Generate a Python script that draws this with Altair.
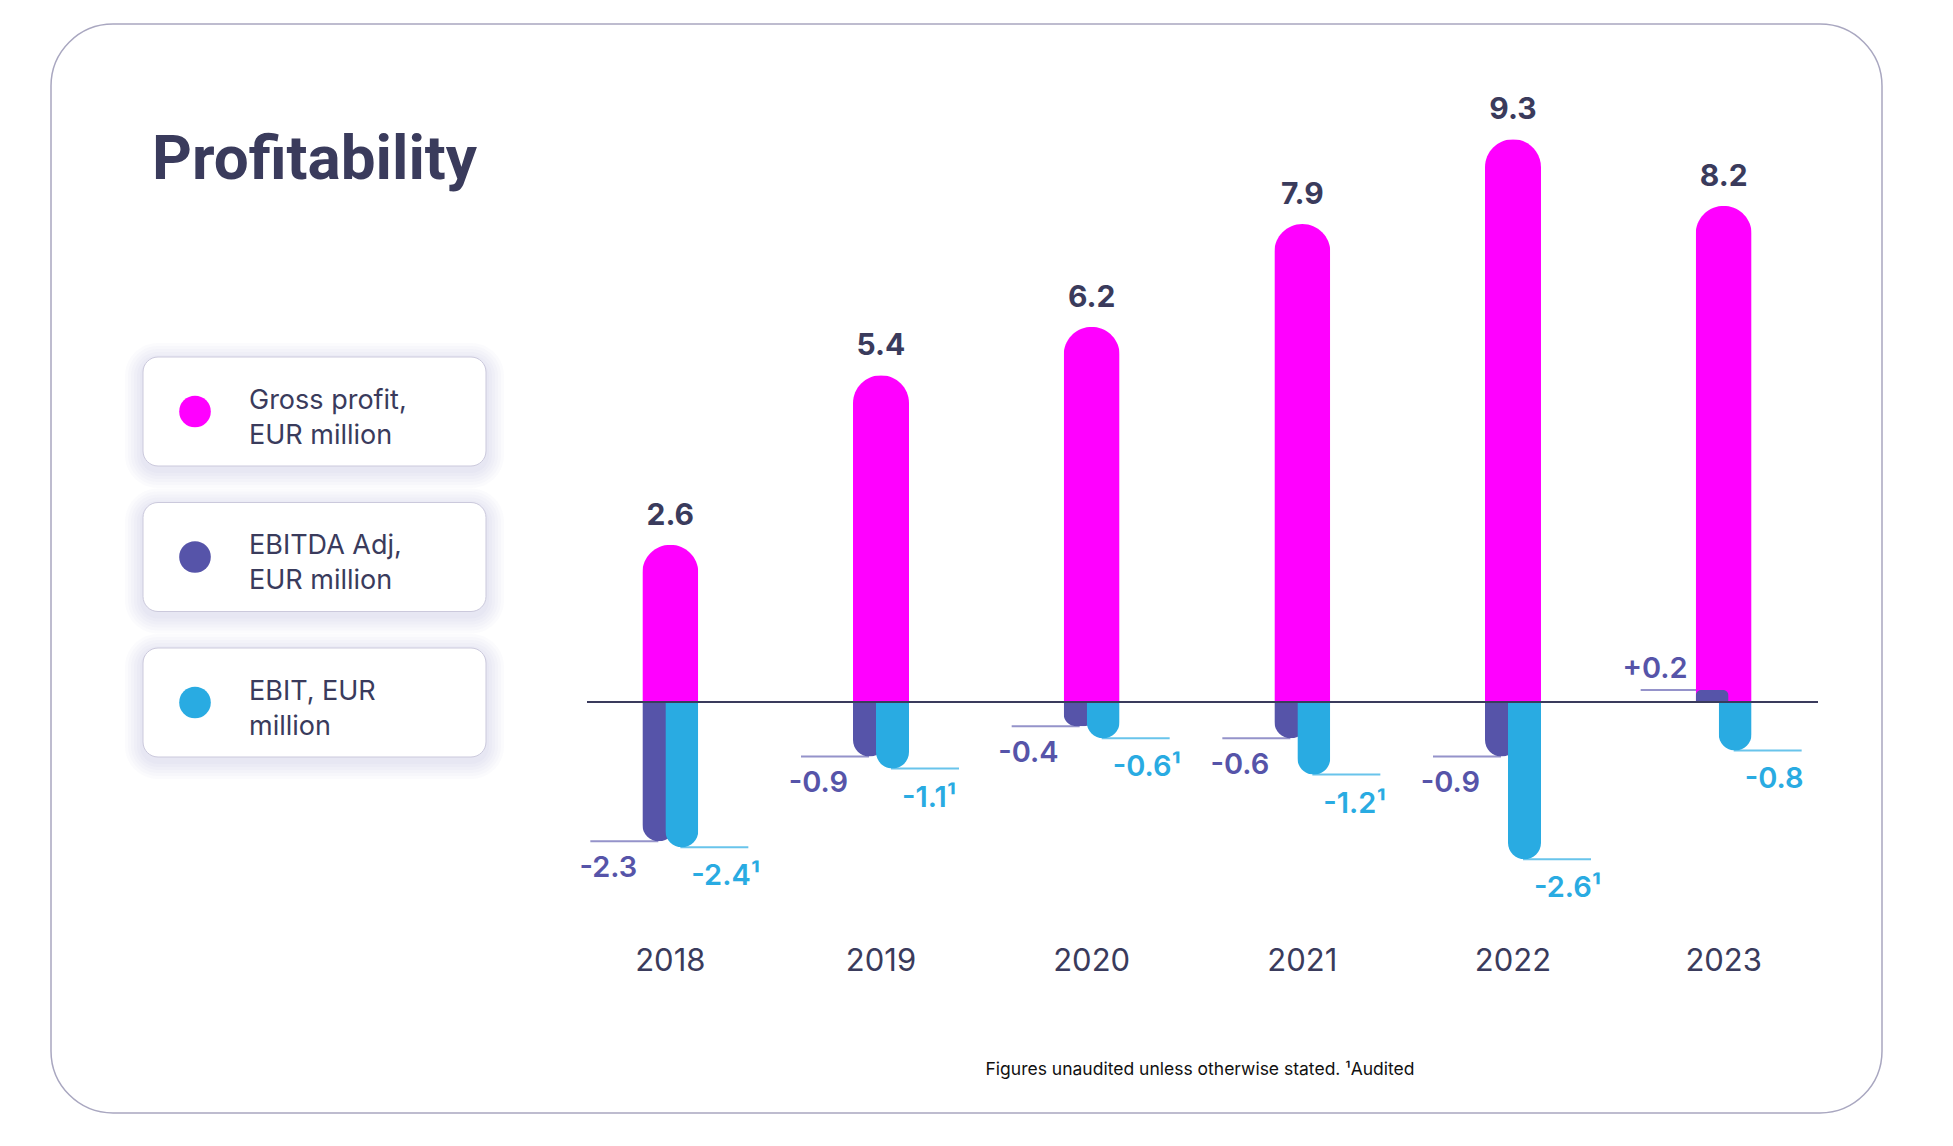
import altair as alt
import pandas as pd

# ---------------- data ----------------
years = ["2018", "2019", "2020", "2021", "2022", "2023"]
gross_profit = [2.6, 5.4, 6.2, 7.9, 9.3, 8.2]
ebitda_adj = [-2.3, -0.9, -0.4, -0.6, -0.9, 0.2]
ebit = [-2.4, -1.1, -0.6, -1.2, -2.6, -0.8]
ebit_audited = [True, True, True, True, True, False]

series_names = ["Gross profit,\nEUR million", "EBITDA Adj,\nEUR million", "EBIT, EUR\nmillion"]
series_colors = ["#FF00FF", "#5654A9", "#29ABE2"]

title_text = "Profitability"
footnote_text = "Figures unaudited unless otherwise stated. \u00b9Audited"

# ---------------- styles ----------------
DARK = "#3A3B5C"
MAG, PURPLE, CYAN = series_colors
FONT = "Inter"

df = pd.DataFrame({
    "year": years,
    "gross": gross_profit,
    "ebitda": ebitda_adj,
    "ebit": ebit,
    "ebitda_label": [f"{v:+.1f}" for v in ebitda_adj],
    "ebit_label": [f"{v:.1f}" + ("\u00b9" if a else "") for v, a in zip(ebit, ebit_audited)],
})

x_scale = alt.Scale(domain=years, range=[565, 1829], paddingInner=0, paddingOuter=0)
PX = 60.5
ZERO_Y = 702
y_scale = alt.Scale(domain=[-5, 10], range=[ZERO_Y + 5 * PX, ZERO_Y - 10 * PX])
X = alt.X("year:N", scale=x_scale, axis=None)


def Y(f):
    return alt.Y(f"{f}:Q", scale=y_scale, axis=None)


base = alt.Chart(df)
neg = "datum.ebitda < 0"
pos = "datum.ebitda >= 0"

lead_ebitda_neg = base.transform_filter(neg).mark_tick(
    orient="horizontal", size=68, thickness=2, xOffset=-46, color="#6865B4"
).encode(x=X, y=Y("ebitda"))
lead_ebitda_pos = base.transform_filter(pos).mark_tick(
    orient="horizontal", size=70, thickness=2, xOffset=-48, color="#6865B4"
).encode(x=X, y=Y("ebitda"))
lead_ebit = base.mark_tick(
    orient="horizontal", size=68, thickness=2, xOffset=44, color=CYAN
).encode(x=X, y=Y("ebit"))

gross_bar = base.mark_bar(
    width=56, color=MAG, cornerRadiusTopLeft=28, cornerRadiusTopRight=28
).encode(x=X, y=Y("gross"))
ebitda_neg_bar = base.transform_filter(neg).mark_bar(
    width=33, xOffset=-11.5, color=PURPLE, cornerRadiusBottomLeft=16.5, cornerRadiusBottomRight=16.5
).encode(x=X, y=Y("ebitda"))
ebitda_pos_bar = base.transform_filter(pos).mark_bar(
    width=33, xOffset=-11.5, color=PURPLE, cornerRadiusTopLeft=16.5, cornerRadiusTopRight=16.5
).encode(x=X, y=Y("ebitda"))
ebit_bar = base.mark_bar(
    width=33, xOffset=11.5, color=CYAN, cornerRadiusBottomLeft=16.5, cornerRadiusBottomRight=16.5
).encode(x=X, y=Y("ebit"))

zero_line = alt.Chart(pd.DataFrame({"zero": [0]})).mark_rule(
    color=DARK, strokeWidth=2
).encode(y=Y("zero"), x=alt.value(587), x2=alt.value(1818))

gross_text = base.mark_text(
    dy=-20, baseline="alphabetic", fontSize=30, fontWeight=700, font=FONT, color=DARK
).encode(x=X, y=Y("gross"), text=alt.Text("gross:Q", format=".1f"))
ebitda_neg_text = base.transform_filter(neg).mark_text(
    align="right", dx=-33, dy=36, baseline="alphabetic", fontSize=29, fontWeight=600,
    font=FONT, color=PURPLE
).encode(x=X, y=Y("ebitda"), text="ebitda_label:N")
ebitda_pos_text = base.transform_filter(pos).mark_text(
    align="right", dx=-36, dy=-12, baseline="alphabetic", fontSize=29, fontWeight=600,
    font=FONT, color=PURPLE
).encode(x=X, y=Y("ebitda"), text="ebitda_label:N")
ebit_text = base.mark_text(
    align="left", dx=21, dy=38, baseline="alphabetic", fontSize=29, fontWeight=600,
    font=FONT, color=CYAN
).encode(x=X, y=Y("ebit"), text="ebit_label:N")
year_text = base.mark_text(
    baseline="alphabetic", fontSize=31, fontWeight=400, font=FONT, color=DARK
).encode(x=X, y=alt.value(971), text="year:N")

main = alt.layer(
    lead_ebitda_neg, lead_ebitda_pos, lead_ebit,
    gross_bar, ebitda_neg_bar, ebitda_pos_bar, ebit_bar,
    zero_line,
    gross_text, ebitda_neg_text, ebitda_pos_text, ebit_text, year_text,
)

# ---------------- legend (drawn as marks) ----------------
leg_df = pd.DataFrame({"name": series_names, "color": series_colors, "i": [0, 1, 2]})
UNIT = 145.5
ly_scale = alt.Scale(domain=[0, 2], range=[411.5, 411.5 + 2 * UNIT])
HALF = 54.5
leg_base = alt.Chart(leg_df)

shadow_layers = []
for k in range(1, 7):
    e = 3 * k
    shadow_layers.append(
        leg_base.transform_calculate(
            lo=f"datum.i - {(HALF + e - 4) / UNIT}",
            hi=f"datum.i + {(HALF + e + 4) / UNIT}",
        ).mark_rect(fill="#7D79B8", opacity=0.028, cornerRadius=15 + e).encode(
            x=alt.value(143 - e), x2=alt.value(486 + e),
            y=alt.Y("lo:Q", scale=ly_scale, axis=None), y2="hi:Q",
        )
    )

box = leg_base.transform_calculate(
    lo=f"datum.i - {HALF / UNIT}", hi=f"datum.i + {HALF / UNIT}"
).mark_rect(fill="white", stroke="#CBC9DC", strokeWidth=1, cornerRadius=15).encode(
    x=alt.value(143), x2=alt.value(486),
    y=alt.Y("lo:Q", scale=ly_scale, axis=None), y2="hi:Q",
)
dots = leg_base.mark_circle(size=1000, opacity=1).encode(
    x=alt.value(195), y=alt.Y("i:Q", scale=ly_scale, axis=None),
    color=alt.Color("color:N", scale=None),
)
leg_text = leg_base.mark_text(
    align="left", baseline="middle", lineBreak="\n", lineHeight=35, fontSize=27,
    font=FONT, color=DARK, dy=-11
).encode(x=alt.value(249), y=alt.Y("i:Q", scale=ly_scale, axis=None), text="name:N")

legend = alt.layer(*shadow_layers, box, dots, leg_text)

# ---------------- card, title, footnote ----------------
one = pd.DataFrame({"t": [title_text], "f": [footnote_text]})
card = alt.Chart(one).mark_rect(
    fill="white", stroke="#A9A7C0", strokeWidth=1.5, cornerRadius=62
).encode(x=alt.value(51), x2=alt.value(1882), y=alt.value(24), y2=alt.value(1113))
title = alt.Chart(one).mark_text(
    align="left", baseline="alphabetic", fontSize=62, fontWeight=700, font="Roboto", color=DARK
).encode(x=alt.value(152), y=alt.value(179), text="t:N")
footnote = alt.Chart(one).mark_text(
    align="center", baseline="alphabetic", fontSize=17.5, font=FONT, color="#111111"
).encode(x=alt.value(1200), y=alt.value(1075), text="f:N")

chart = alt.layer(card, legend, main, title, footnote).resolve_scale(
    y="independent", x="independent", color="independent"
).properties(
    width=1953, height=1146, autosize=alt.AutoSizeParams(type="none"), padding=0,
    background="white",
).configure_view(stroke=None)

chart.save("out.html", embed_options={"renderer": "svg", "actions": False})
